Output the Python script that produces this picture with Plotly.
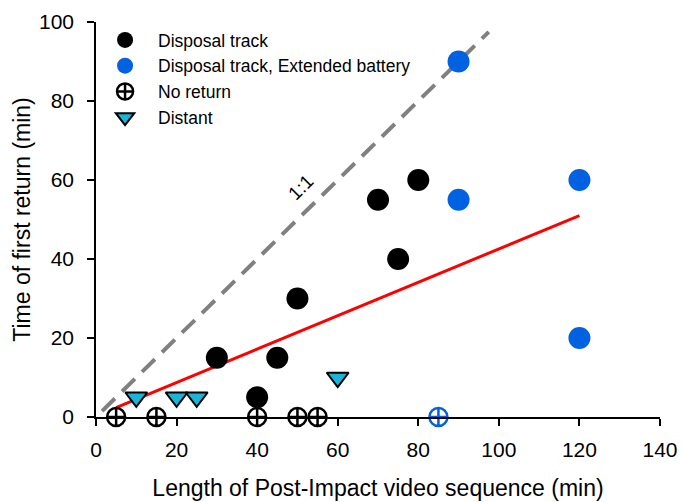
import plotly.graph_objects as go

# Data
disp_x = [30, 40, 45, 50, 70, 75, 80]
disp_y = [15, 5, 15, 30, 55, 40, 60]
ext_x = [90, 90, 120, 120]
ext_y = [90, 55, 60, 20]
noret_x = [5, 15, 40, 50, 55]
noret_y = [0, 0, 0, 0, 0]
noret_ext_x = [85]
noret_ext_y = [0]
dist_x = [10, 20, 25, 60]
dist_y = [5, 5, 5, 10]
one_x = [1.5, 97.5]
one_y = [1.5, 97.5]
fit_x = [5, 120]
fit_y = [2.4, 51]

xticks = [0, 20, 40, 60, 80, 100, 120, 140]
yticks = [0, 20, 40, 60, 80, 100]

FONT = "Liberation Sans, Arial, sans-serif"

fig = go.Figure()
fig.add_trace(go.Scatter(x=one_x, y=one_y, mode="lines", showlegend=False,
                         line=dict(color="#808080", width=4, dash="18px,10px"), cliponaxis=False))
fig.add_trace(go.Scatter(x=fit_x, y=fit_y, mode="lines", showlegend=False,
                         line=dict(color="#ff0000", width=3), cliponaxis=False))
fig.add_trace(go.Scatter(x=disp_x, y=disp_y, mode="markers", name="Disposal track",
                         marker=dict(color="black", size=22), cliponaxis=False))
fig.add_trace(go.Scatter(x=ext_x, y=ext_y, mode="markers", name="Disposal track, Extended battery",
                         marker=dict(color="#0062e0", size=22), cliponaxis=False))
fig.add_trace(go.Scatter(x=noret_x, y=noret_y, mode="markers", name="No return",
                         marker=dict(symbol="circle-cross", color="white", size=18,
                                     line=dict(color="black", width=2.5)), cliponaxis=False))
fig.add_trace(go.Scatter(x=noret_ext_x, y=noret_ext_y, mode="markers", showlegend=False,
                         marker=dict(symbol="circle-cross", color="white", size=18,
                                     line=dict(color="#0062e0", width=2.5)), cliponaxis=False))
fig.add_trace(go.Scatter(x=dist_x, y=dist_y, mode="markers", name="Distant",
                         marker=dict(symbol="triangle-down", color="#1ab4d8", size=19,
                                     line=dict(color="black", width=2)), cliponaxis=False))

fig.add_annotation(x=50.8, y=58, text="1:1", showarrow=False, textangle=-45,
                   font=dict(size=19, color="black", family=FONT))

fig.update_layout(
    width=681, height=502,
    margin=dict(l=96, r=21, t=22, b=85),
    plot_bgcolor="white", paper_bgcolor="white",
    font=dict(family=FONT, color="black"),
    showlegend=True,
    legend=dict(x=-0.007, y=1.0, xanchor="left", yanchor="top", bgcolor="rgba(0,0,0,0)",
                font=dict(size=17.5, color="black"), tracegroupgap=0, itemwidth=56),
    xaxis=dict(range=[0, 140], tickvals=xticks, ticks="outside", ticklen=7, tickwidth=1.5,
               tickcolor="black", showline=True, linecolor="black", linewidth=1.5,
               showgrid=False, zeroline=False, tickfont=dict(size=21), automargin=False,
               ticklabelstandoff=6,
               title=dict(text="Length of Post-Impact video sequence (min)", font=dict(size=23), standoff=20)),
    yaxis=dict(range=[0, 100], tickvals=yticks, ticks="outside", ticklen=7, tickwidth=1.5,
               tickcolor="black", showline=True, linecolor="black", linewidth=1.5,
               showgrid=False, zeroline=False, tickfont=dict(size=21), automargin=False,
               ticklabelstandoff=9,
               title=dict(text="Time of first return (min)", font=dict(size=23), standoff=2)),
)

fig.write_html("out.html")
